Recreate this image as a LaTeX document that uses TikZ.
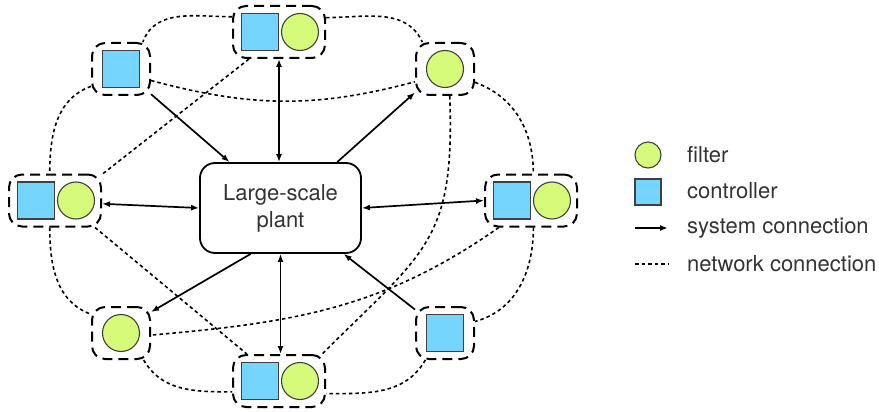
\documentclass[tikz,border=0pt]{standalone}
\usepackage{fontspec}
\setmainfont{TeX Gyre Heros}
\usetikzlibrary{arrows.meta}
\definecolor{ctrlblue}{HTML}{75D5FD}
\definecolor{filtgreen}{HTML}{D6FA7A}
\definecolor{txt}{HTML}{333333}
\begin{document}
\begin{tikzpicture}[x=1pt,y=-1pt,
  grp/.style={draw, dash pattern=on 10pt off 6pt, line width=2pt, rounded corners=13pt, minimum height=52pt, inner sep=0pt},
  grpone/.style={grp, minimum width=58pt},
  grptwo/.style={grp, minimum width=92pt},
  ctrl/.style={draw=black!75, fill=ctrlblue, line width=1.1pt, minimum size=37pt, inner sep=0pt},
  filt/.style={circle, draw=black!75, fill=filtgreen, line width=1.1pt, minimum size=37pt, inner sep=0pt},
  sys/.style={line width=1.7pt, -{Latex[length=8pt,width=6pt]}},
  sysb/.style={line width=1.7pt, {Latex[length=8pt,width=6pt]}-{Latex[length=8pt,width=6pt]}},
  net/.style={line width=1.6pt, dash pattern=on 3.5pt off 3pt},
  lbl/.style={font=\fontsize{22}{26}\selectfont, text=txt, anchor=west, inner sep=0pt}
]
\useasboundingbox (0,0) rectangle (879,412);

% plant
\node[draw, line width=1.8pt, rounded corners=15pt, minimum width=161pt, minimum height=90pt,
      align=center, font=\fontsize{22}{27}\selectfont, text=txt] (plant) at (280.5,208) {Large-scale\\plant};

% groups
\node[grpone] (tl) at (121,69) {};
\node[ctrl] (tlc) at (tl.center) {};

\node[grptwo] (top) at (279,32) {};
\node[ctrl] (topc) at ([xshift=-19pt]top.center) {};
\node[filt] (topf) at ([xshift=21pt]top.center) {};

\node[grpone] (tr) at (445,69) {};
\node[filt] (trf) at (tr.center) {};

\node[grptwo] (lft) at (55,200.5) {};
\node[ctrl] (lftc) at ([xshift=-19pt]lft.center) {};
\node[filt] (lftf) at ([xshift=21pt]lft.center) {};

\node[grptwo] (rgt) at (531,200.5) {};
\node[ctrl] (rgtc) at ([xshift=-19pt]rgt.center) {};
\node[filt] (rgtf) at ([xshift=21pt]rgt.center) {};

\node[grpone] (bl) at (121,333) {};
\node[filt] (blf) at (bl.center) {};

\node[grptwo] (bot) at (279,381) {};
\node[ctrl] (botc) at ([xshift=-19pt]bot.center) {};
\node[filt] (botf) at ([xshift=21pt]bot.center) {};

\node[grpone] (br) at (445,333) {};
\node[ctrl] (brc) at (br.center) {};

% system connections
\draw[sys] (tl.-40) -- (plant.138);
\draw[sysb] (top.south) -- (top.south |- plant.north);
\draw[sys] (plant.39.5) -- (tr.218);
\draw[sysb] (lft.-4) -- (plant.west);
\draw[sysb] (plant.east) -- (rgt.west);
\draw[sys] (plant.237) -- (bl.35);
\draw[sysb] (plant.south) -- (plant.south |- bot.north);
\draw[sys] (br.142) -- (plant.-36);

% network connections
\draw[net] (top.162) to[out=180,in=70] (tl.51);
\draw[net] (tl.210) to[out=200,in=90] (lft.101);
\draw[net] (tl.-21) to[out=-15,in=195] (tr.203);
\draw[net] (top.222) -- (lft.29);
\draw[net] (top.17) to[out=0,in=115] (tr.130);
\draw[net] (tr.-24) to[out=-20,in=90] (rgt.85);
\draw[net] (tr.-80) to[out=-88,in=45,looseness=1.3] (bot.32);
\draw[net] (rgt.220) to[out=215,in=5] (bl.-4);
\draw[net] (rgt.-85) to[out=-90,in=15] (br.21);
\draw[net] (br.234) to[out=-120,in=0] (bot.-15);
\draw[net] (lft.259) to[out=-90,in=160] (bl.148);
\draw[net] (lft.-34) -- (bot.140);
\draw[net] (bl.-50) to[out=-60,in=180] (bot.193);

% legend
\node[filt, minimum size=26pt] (lgf) at (648,155) {};
\node[ctrl, minimum size=26pt] (lgc) at (648,192) {};
\coordinate (lgs1) at (635,228);
\coordinate (lgs2) at (668,228);
\coordinate (lgn1) at (635,264);
\coordinate (lgn2) at (668,264);
\draw[sys] (lgs1) -- (lgs2);
\draw[net] (lgn1) -- (lgn2);
\node[lbl] (t1) at (687,155) {filter};
\node[lbl] (t2) at (687,191) {controller};
\node[lbl] (t3) at (687,228) {system connection};
\node[lbl] (t4) at (687,264) {network connection};
\end{tikzpicture}
\end{document}
